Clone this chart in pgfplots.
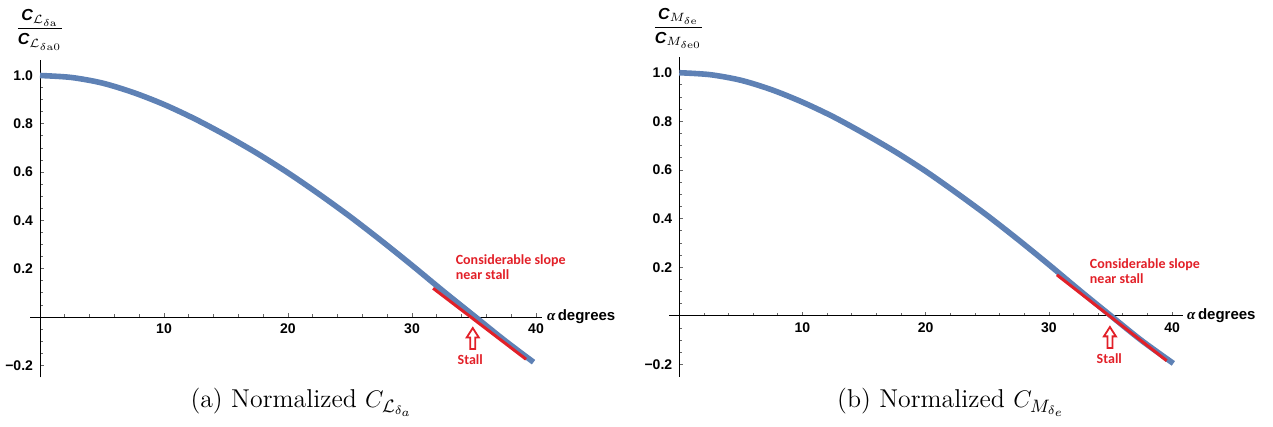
\documentclass[border=0pt]{standalone}
\usepackage{amsmath}
\usepackage{fontspec}
\usepackage{pgfplots}
\pgfplotsset{compat=1.18}
\newfontfamily\arial{Liberation Sans}
\newfontfamily\carlito{Carlito}
\newfontfamily\timesf{Liberation Serif}
\definecolor{mblue}{RGB}{94,129,181}
\definecolor{mred}{RGB}{226,32,40}
\pgfplotsset{mystyle/.style={
  scale only axis, anchor=south west,
  axis lines=middle, axis line style={-, line width=0.5pt},
  xmin=-0.8, ymin=-0.25,
  xtick={0,10,20,30,40}, xticklabels={,10,20,30,40},
  ytick={-0.2,0,0.2,0.4,0.6,0.8,1.0},
  yticklabels={−0.2,,0.2,0.4,0.6,0.8,1.0},
  minor x tick num=4, minor y tick num=3,
  tick align=inside, major tick length=2pt, minor tick length=1.3pt,
  every tick/.style={black!60, line width=0.4pt},
  ticklabel style={font=\arial\bfseries\fontsize{7}{8}\selectfont},
  clip=false}}
\newcommand{\xlab}{{\fontsize{7.5}{9}\selectfont{\timesf\bfseries\itshape α}\,{\arial\bfseries degrees}}}
\newcommand{\bC}{\mbox{\arial\bfseries\itshape C}}
\newcommand{\stallarrow}[1]{\draw[mred, line width=0.9pt, fill=white] (#1) ++(0,-5.5pt) -- ++(3pt,-4.7pt) -- ++(-1.75pt,0) -- ++(0,-5.8pt) -- ++(-2.5pt,0) -- ++(0,5.8pt) -- ++(-1.75pt,0) -- cycle;}
\begin{document}
\begin{tikzpicture}
\useasboundingbox (0,0) rectangle (636.5pt,213.5pt);
% ---------- left ----------
\begin{axis}[mystyle, at={(15.04pt,24.8pt)}, width=256.06pt, height=158.8pt, xmax=40.5, ymax=1.065]
\addplot[mblue, line width=2.8pt, smooth] table {
0 1.000
2.5 0.992
5 0.969
7.5 0.930
10 0.880
12.5 0.820
15 0.752
17.5 0.678
20 0.597
22.5 0.509
25 0.416
27.5 0.317
30 0.214
32.5 0.108
35 0.005
37.5 -0.098
39.8 -0.187
};
\addplot[mred, line width=1.5pt] coordinates {(31.7,0.119) (39.2,-0.175)};
\node[anchor=west, inner sep=0pt, xshift=2.2pt] at (axis cs:40.5,0) {\xlab};
\node[anchor=west, align=left, inner sep=0pt, text=mred, font=\carlito\bfseries\fontsize{7}{7.5}\selectfont] at (axis cs:33.5,0.205) {Considerable slope\\near stall};
\node[inner sep=0pt, text=mred, font=\carlito\bfseries\fontsize{7}{8}\selectfont] at (axis cs:34.7,-0.178) {Stall};
\coordinate (arrL) at (axis cs:34.9,0);
\end{axis}
\stallarrow{arrL}
% ---------- right ----------
\begin{axis}[mystyle, at={(334.7pt,25.1pt)}, width=256.9pt, height=159.7pt, xmax=40.9, ymax=1.063]
\addplot[mblue, line width=2.8pt, smooth] table {
0 1.000
2.5 0.992
5 0.969
7.5 0.930
10 0.879
12.5 0.819
15 0.750
17.5 0.676
20 0.595
22.5 0.506
25 0.413
27.5 0.314
30 0.211
32.5 0.105
35 0.002
37.5 -0.100
40.1 -0.195
};
\addplot[mred, line width=1.5pt] coordinates {(30.65,0.169) (39.56,-0.184)};
\node[anchor=west, inner sep=0pt, xshift=1.8pt] at (axis cs:40.9,0) {\xlab};
\node[anchor=west, align=left, inner sep=0pt, text=mred, font=\carlito\bfseries\fontsize{7}{7.5}\selectfont] at (axis cs:33.3,0.1825) {Considerable slope\\near stall};
\node[inner sep=0pt, text=mred, font=\carlito\bfseries\fontsize{7}{8}\selectfont] at (axis cs:34.9,-0.174) {Stall};
\coordinate (arrR) at (axis cs:34.95,0);
\end{axis}
\stallarrow{arrR}
% ---------- y labels ----------
\node[inner sep=0pt, font=\fontsize{8}{9}\selectfont] at (20pt,198.5pt)
  {$\dfrac{\bC_{\mathcal{L}_{\delta\mathrm{a}}}}{\bC_{\mathcal{L}_{\delta\mathrm{a}0}}}$};
\node[inner sep=0pt, font=\fontsize{8}{9}\selectfont] at (339.2pt,199.3pt)
  {$\dfrac{\bC_{M_{\delta\mathrm{e}}}}{\bC_{M_{\delta\mathrm{e}0}}}$};
% ---------- captions ----------
\node[anchor=base, inner sep=0pt, font=\fontsize{12.9}{15}\selectfont] at (150.8pt,9.5pt) {(a) Normalized $C_{\mathcal{L}_{\delta_a}}$};
\node[anchor=base, inner sep=0pt, font=\fontsize{12.9}{15}\selectfont] at (475.5pt,9.5pt) {(b) Normalized $C_{M_{\delta_e}}$};
\end{tikzpicture}
\end{document}
